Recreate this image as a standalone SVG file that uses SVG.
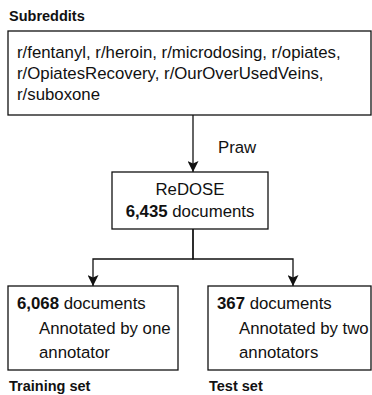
<svg xmlns="http://www.w3.org/2000/svg" width="372" height="395" viewBox="0 0 372 395">
<style>
text{font-family:"Liberation Sans",Arial,sans-serif;font-size:16.8px;fill:#111}
.b{font-weight:bold}
.h{font-weight:bold;font-size:14.5px}
.box{fill:#fff;stroke:#111;stroke-width:1.3}
.con{fill:none;stroke:#111;stroke-width:1.3;marker-end:url(#arr)}
.con0{fill:none;stroke:#111;stroke-width:1.3}
</style>
<defs>
<marker id="arr" markerWidth="11" markerHeight="11" refX="11" refY="5.5" orient="auto" markerUnits="userSpaceOnUse" viewBox="0 0 11 11">
<path d="M0,0 L11,5.5 L0,11 L2.5,5.5 Z" fill="#111"/>
</marker>
</defs>
<rect width="372" height="395" fill="#fff"/>
<g id="connectors">
<path class="con" d="M193,115 V172"/>
<path class="con" d="M193,229 V259 H93 V286"/>
<path class="con" d="M193,229 V259 H293 V286"/>
<text x="218" y="153">Praw</text>
</g>
<g id="subreddits">
<text class="h" x="9" y="21">Subreddits</text>
<rect class="box" x="8" y="31" width="363" height="84"/>
<text x="17" y="58">r/fentanyl, r/heroin, r/microdosing, r/opiates,</text>
<text x="17" y="79">r/OpiatesRecovery, r/OurOverUsedVeins,</text>
<text x="17" y="100">r/suboxone</text>
</g>
<g id="redose">
<rect class="box" x="112" y="172" width="156" height="57"/>
<text x="190" y="195" text-anchor="middle">ReDOSE</text>
<text x="190" y="217" text-anchor="middle"><tspan class="b">6,435</tspan> documents</text>
</g>
<g id="training">
<rect class="box" x="8" y="286" width="170" height="84"/>
<text x="17" y="309"><tspan class="b">6,068</tspan> documents</text>
<text x="39" y="334">Annotated by one</text>
<text x="39" y="358">annotator</text>
<text class="h" x="9" y="391">Training set</text>
</g>
<g id="test">
<rect class="box" x="208" y="286" width="163" height="84"/>
<text x="217" y="309"><tspan class="b">367</tspan> documents</text>
<text x="239" y="334">Annotated by two</text>
<text x="239" y="358">annotators</text>
<text class="h" x="209" y="391">Test set</text>
</g>
</svg>
